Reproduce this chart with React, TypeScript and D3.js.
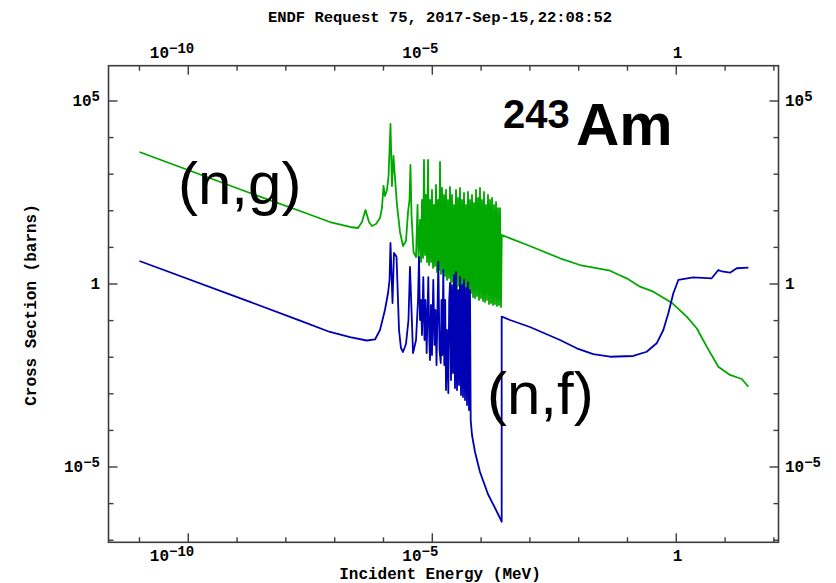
import React from "react";
import * as d3 from "d3";

// ---- data (energies in MeV, cross sections in barns) ----
const ngEnergy = [
  1.0e-11, 1.84e-9, 1.95e-8, 8.0e-8, 2.06e-7, 3.0e-7, 3.62e-7, 4.28e-7, 5.04e-7, 5.81e-7,
  7.02e-7, 8.48e-7, 9.31e-7, 1.0e-6, 1.07e-6, 1.18e-6, 1.27e-6, 1.39e-6, 1.49e-6, 1.6e-6,
  1.72e-6, 1.89e-6, 2.18e-6, 2.51e-6, 2.89e-6, 3.18e-6, 3.41e-6, 3.57e-6, 3.75e-6, 4.12e-6,
  4.64e-6, 4.98e-6, 5.21e-6, 5.6e-6,
  5.87e-6, 6.15e-6, 6.45e-6, 6.76e-6, 7.09e-6, 7.43e-6, 7.79e-6, 8.17e-6, 8.56e-6, 8.97e-6,
  9.41e-6, 9.86e-6, 1.034e-5, 1.084e-5, 1.136e-5, 1.191e-5, 1.249e-5, 1.309e-5, 1.372e-5, 1.439e-5,
  1.508e-5, 1.581e-5, 1.657e-5, 1.737e-5, 1.821e-5, 1.909e-5, 2.002e-5, 2.098e-5, 2.199e-5, 2.306e-5,
  2.417e-5, 2.534e-5, 2.656e-5, 2.785e-5, 2.919e-5, 3.06e-5, 3.208e-5, 3.363e-5, 3.526e-5, 3.696e-5,
  3.874e-5, 4.062e-5, 4.258e-5, 4.463e-5, 4.679e-5, 4.905e-5, 5.142e-5, 5.391e-5, 5.651e-5, 5.924e-5,
  6.21e-5, 6.51e-5, 6.825e-5, 7.154e-5, 7.5e-5, 7.862e-5, 8.242e-5, 8.64e-5, 9.058e-5, 9.495e-5,
  9.954e-5, 1.043e-4, 1.094e-4, 1.147e-4, 1.202e-4, 1.26e-4, 1.321e-4, 1.385e-4, 1.452e-4, 1.522e-4,
  1.595e-4, 1.672e-4, 1.753e-4, 1.838e-4, 1.927e-4, 2.02e-4, 2.117e-4, 2.22e-4, 2.327e-4, 2.439e-4,
  2.557e-4,
  2.65e-4, 1.0e-3, 4.14e-3, 1.06e-2, 2.16e-2, 4.38e-2, 6.38e-2, 9.63e-2, 0.18, 0.338, 0.805, 1.63,
  2.62, 4.2, 7.26, 12.6, 21.9, 30,
];
const ngSigma = [
  4046, 306, 98.8, 49.4, 36.1, 33.9, 49.4, 105, 49.4, 38.5,
  43.6, 63.6, 119, 476, 254, 370, 893, 23500, 476, 3140,
  788, 144, 26.4, 10.9, 15.0, 92.7, 197, 1784, 76.8, 7.49,
  5.47, 144, 5.13, 56,
  3.99, 197, 5.13, 2443, 6.2, 270, 3.99, 2443, 3.3, 197,
  3.99, 370, 2.74, 144, 3.1, 507, 2.13, 197, 2.41, 2153,
  1.88, 420, 2.13, 270, 1.65, 370, 1.29, 197, 1.46, 447,
  1.07, 270, 1.13, 144, 0.882, 370, 0.778, 224, 0.882, 420,
  0.686, 197, 0.605, 306, 0.686, 144, 0.533, 326, 0.47, 197,
  0.568, 270, 0.441, 163, 0.415, 370, 0.47, 224, 0.366, 420,
  0.415, 197, 0.343, 326, 0.322, 144, 0.366, 270, 0.284, 197,
  0.303, 224, 0.267, 144, 0.284, 174, 0.251, 119, 0.267, 119,
  0.235,
  21.8, 10.9, 5.04, 3.3, 2.74, 2.31, 1.82, 1.43, 0.844, 0.616, 0.308, 0.128,
  0.0617, 0.0194, 5.5e-3, 3.27e-3, 2.54e-3, 1.56e-3,
];

const nfEnergy = [
  1.0e-11, 1.84e-9, 1.95e-8, 8.0e-8, 2.06e-7, 4.53e-7, 6.7e-7, 8.48e-7, 1.07e-6, 1.24e-6,
  1.33e-6, 1.39e-6, 1.53e-6, 1.64e-6, 1.76e-6, 1.85e-6, 2.08e-6, 2.28e-6, 2.51e-6, 2.89e-6,
  3.25e-6, 3.49e-6, 3.75e-6, 4.03e-6, 4.64e-6, 5.1e-6,
  5.34e-6, 5.6e-6, 5.87e-6, 6.15e-6, 6.54e-6, 6.92e-6, 7.26e-6, 7.67e-6, 8.28e-6, 8.69e-6,
  8.97e-6, 9.41e-6, 9.86e-6, 1.047e-5, 1.109e-5, 1.163e-5, 1.22e-5, 1.33e-5, 1.406e-5, 1.49e-5,
  1.545e-5, 1.603e-5, 1.68e-5, 1.76e-5, 1.837e-5, 1.91e-5, 2.0e-5, 2.13e-5, 2.22e-5, 2.31e-5,
  2.417e-5, 2.534e-5, 2.656e-5, 2.785e-5, 2.919e-5, 3.06e-5, 3.208e-5, 3.363e-5, 3.526e-5, 3.696e-5,
  3.874e-5, 4.062e-5, 4.258e-5, 4.463e-5, 4.679e-5, 4.905e-5, 5.142e-5, 5.391e-5, 5.651e-5, 5.924e-5,
  6.12e-5, 6.51e-5, 7.5e-5, 9.49e-5, 1.38e-4, 2.12e-4, 2.64e-4,
  2.64e-4, 3.91e-4, 1.0e-3, 4.14e-3, 9.1e-3, 1.99e-2, 4.38e-2, 0.131, 0.247, 0.396,
  0.542, 0.686, 0.869, 1.1, 2.23, 5.31, 7.26, 8.63, 12.6, 17.3, 30,
];
const nfSigma = [
  4.25, 0.324, 0.1, 0.0489, 0.0356, 0.0286, 0.0305, 0.0553, 0.195, 0.568,
  1.29, 13.2, 0.303, 7.03, 6.2, 5.47, 0.0553, 0.0178, 0.0139, 0.0229,
  0.104, 2.91, 0.195, 0.013, 0.0295, 0.366,
  5.47, 0.104, 0.366, 0.0404, 1.55, 0.0295, 0.366, 0.013, 1.55, 0.0295,
  8.38e-3, 0.267, 0.0115, 1.29, 0.0216, 0.195, 6.12e-3, 3.99, 0.0157, 6.95e-3,
  0.366, 0.0115, 2.41, 6.12e-3, 0.366, 1.27e-3, 0.0553, 1.05e-3, 0.366, 1.07,
  2.38e-3, 0.94, 3.7e-3, 1.76, 1.44e-3, 2.13, 1.27e-3, 0.686, 1.74e-3, 1.55,
  9.27e-4, 0.94, 8.18e-4, 1.29, 6.78e-4, 0.778, 4.94e-4, 1.13, 3.61e-4, 0.686,
  1.92e-4, 7.49e-5, 2.57e-5, 7.3e-6, 1.83e-6, 5.89e-7, 3.2e-7,
  0.128, 0.104, 0.0668, 0.0295, 0.0175, 0.0122, 0.0103, 0.0108, 0.0141, 0.024,
  0.0553, 0.158, 0.557, 1.29, 1.52, 1.43, 2.41, 2.2, 2.04, 2.69, 2.79,
];

const xTickExps = [-11, -10, -9, -8, -7, -6, -5, -4, -3, -2, -1, 0, 1, 2];
const xLabelExps = [-10, -5, 0];
const yTickExps = [-7, -6, -5, -4, -3, -2, -1, 0, 1, 2, 3, 4, 5];
const yLabelExps = [5, 0, -5];

const titleText = "ENDF Request 75, 2017-Sep-15,22:08:52";
const xTitle = "Incident Energy (MeV)";
const yTitle = "Cross Section (barns)";

const MONO = "'Liberation Mono', 'DejaVu Sans Mono', monospace";
const SANS = "'Liberation Sans', Arial, sans-serif";

function TickLabel({ exp, x, y, anchor }: { exp: number; x: number; y: number; anchor: string }) {
  if (exp === 0) {
    return (
      <text x={x} y={y} textAnchor={anchor} fontFamily={MONO} fontWeight="bold" fontSize={16} fill="#000">
        1
      </text>
    );
  }
  const sup = exp < 0 ? "\u2212" + Math.abs(exp) : String(exp);
  return (
    <text x={x} y={y} textAnchor={anchor} fontFamily={MONO} fontWeight="bold" fontSize={16} fill="#000">
      <tspan>10</tspan>
      <tspan dy={-5} fontSize={14}>{sup}</tspan>
    </text>
  );
}

export default function App() {
  const W = 836, H = 583;
  const L = 108.5, R = 778.5, T = 65.7, B = 542.3;
  const x = d3.scaleLog().domain([Math.pow(10, -11.635), Math.pow(10, 2.094)]).range([L, R]);
  const y = d3.scaleLog().domain([Math.pow(10, -7.057), Math.pow(10, 5.964)]).range([B, T]);

  const line = d3
    .line<[number, number]>()
    .x((d) => x(d[0]))
    .y((d) => y(d[1]));

  const ngPts: [number, number][] = ngEnergy.map((e, i) => [e, ngSigma[i]]);
  const nfPts: [number, number][] = nfEnergy.map((e, i) => [e, nfSigma[i]]);

  const frameColor = "#3c3c3c";

  return (
    <svg width={W} height={H} style={{ position: "absolute", left: 0, top: 0, background: "#fff" }}>
      <defs>
        <clipPath id="plotclip">
          <rect x={L} y={T} width={R - L} height={B - T} />
        </clipPath>
      </defs>
      <rect x={0} y={0} width={W} height={H} fill="#fff" />

      <text x={440} y={22} textAnchor="middle" fontFamily={MONO} fontWeight="bold" fontSize={15.5} fill="#000">
        {titleText}
      </text>

      <g clipPath="url(#plotclip)" fill="none" strokeLinejoin="round">
        <path d={line(ngPts) || ""} stroke="#00a800" strokeWidth={1.8} />
        <path d={line(nfPts) || ""} stroke="#0000b4" strokeWidth={1.8} />
      </g>

      {/* frame */}
      <rect x={L} y={T} width={R - L} height={B - T} fill="none" stroke={frameColor} strokeWidth={1.6} />

      {/* x ticks */}
      {xTickExps.map((e) => {
        const px = x(Math.pow(10, e));
        const len = xLabelExps.includes(e) ? 9 : 5;
        return (
          <g key={"xt" + e} stroke={frameColor} strokeWidth={1.4}>
            <line x1={px} x2={px} y1={T} y2={T + len} />
            <line x1={px} x2={px} y1={B} y2={B - len} />
          </g>
        );
      })}
      {/* y ticks */}
      {yTickExps.map((e) => {
        const py = y(Math.pow(10, e));
        const len = yLabelExps.includes(e) ? 9 : 5;
        return (
          <g key={"yt" + e} stroke={frameColor} strokeWidth={1.4}>
            <line x1={L} x2={L + len} y1={py} y2={py} />
            <line x1={R} x2={R - len} y1={py} y2={py} />
          </g>
        );
      })}

      {/* x tick labels */}
      {xLabelExps.map((e) => {
        const px = x(Math.pow(10, e));
        return (
          <g key={"xl" + e}>
            <TickLabel exp={e} x={px + 6} y={58} anchor="end" />
            <TickLabel exp={e} x={px + 6} y={561} anchor="end" />
          </g>
        );
      })}
      {/* y tick labels */}
      {yLabelExps.map((e) => {
        const py = y(Math.pow(10, e));
        return (
          <g key={"yl" + e}>
            <TickLabel exp={e} x={100} y={py + 5} anchor="end" />
            <TickLabel exp={e} x={785} y={py + 5} anchor="start" />
          </g>
        );
      })}

      <text x={440} y={579} textAnchor="middle" fontFamily={MONO} fontWeight="bold" fontSize={16} fill="#000">
        {xTitle}
      </text>
      <text
        transform="translate(36,305) rotate(-90)"
        textAnchor="middle"
        fontFamily={MONO}
        fontWeight="bold"
        fontSize={16}
        fill="#000"
      >
        {yTitle}
      </text>

      {/* annotations */}
      <text x={178} y={204} fontFamily={SANS} fontSize={60} fill="#000">(n,g)</text>
      <text x={487} y={414} fontFamily={SANS} fontSize={60} fill="#000">(n,f)</text>
      <text x={503} y={128} fontFamily={SANS} fontWeight="bold" fontSize={40} fill="#000">243</text>
      <text x={576} y={145} fontFamily={SANS} fontWeight="bold" fontSize={60} fill="#000">Am</text>
    </svg>
  );
}
